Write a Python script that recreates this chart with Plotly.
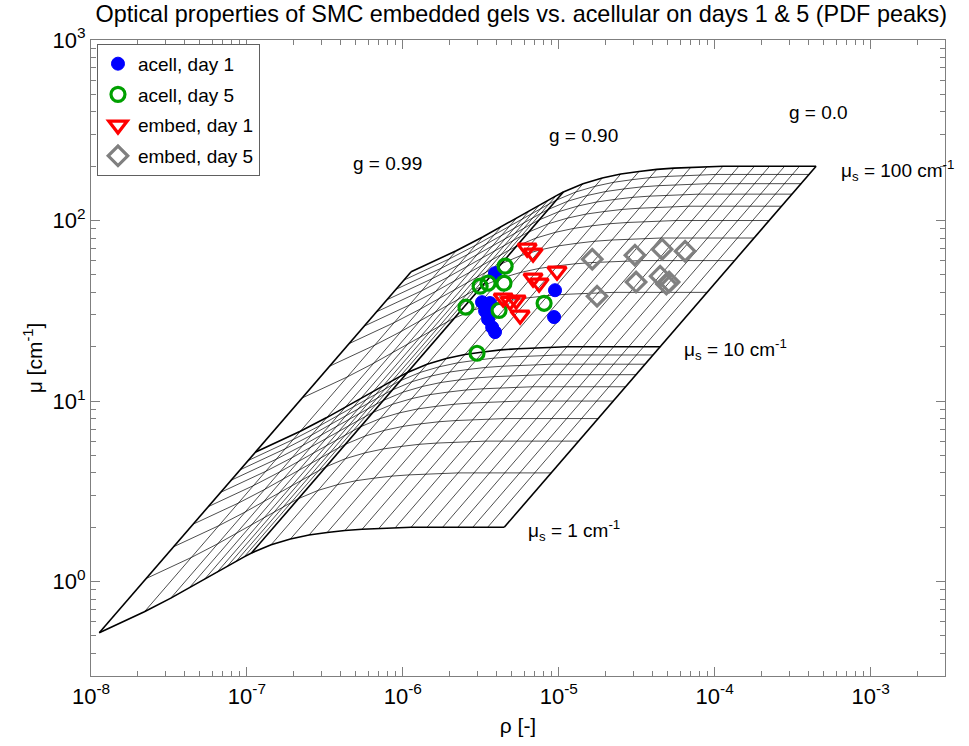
import math
import plotly.graph_objects as go

# ---- model grid: scattering coefficient levels and anisotropy levels ----
mu_s_levels = [1, 2, 3, 4, 5, 6, 7, 8, 9, 10, 20, 30, 40, 50, 60, 70, 80, 90, 100]
mu_s_bold = [1, 10, 100]
g_levels = [0.99, 0.98, 0.97, 0.96, 0.95, 0.94, 0.93, 0.92, 0.91, 0.90,
            0.84, 0.78, 0.72, 0.66, 0.60, 0.54, 0.48, 0.42, 0.36, 0.30,
            0.24, 0.18, 0.12, 0.06, 0.0]
g_bold = [0.99, 0.90, 0.0]
# rho and mu per unit mu_s (cm) for each g level
rho_per_mus = [1.13e-8, 2.20e-8, 3.25e-8, 4.30e-8, 5.35e-8, 6.40e-8, 7.45e-8, 8.50e-8, 9.60e-8, 1.07e-7,
               1.43e-7, 1.90e-7, 2.50e-7, 3.27e-7, 4.25e-7, 5.48e-7, 7.02e-7, 8.95e-7, 1.13e-6, 1.43e-6,
               1.80e-6, 2.25e-6, 2.81e-6, 3.50e-6, 4.47e-6]
mu_per_mus = [0.52, 0.68, 0.81, 0.93, 1.03, 1.12, 1.21, 1.29, 1.37, 1.44,
              1.60, 1.72, 1.81, 1.87, 1.92, 1.95, 1.97, 1.99, 2.0, 2.0,
              2.0, 2.0, 2.0, 2.0, 2.0]

# ---- measured PDF peaks ----
acell_d1_rho = [3.90e-6, 3.22e-6, 3.62e-6, 3.37e-6, 3.52e-6, 3.74e-6, 3.90e-6, 9.46e-6, 9.33e-6]
acell_d1_mu = [51.1, 35.3, 34.9, 31.5, 28.4, 25.6, 24.1, 41.1, 29.2]
acell_d5_rho = [4.53e-6, 3.13e-6, 3.52e-6, 4.45e-6, 2.54e-6, 4.14e-6, 8.05e-6, 2.99e-6]
acell_d5_mu = [55.9, 43.3, 45.0, 45.0, 33.1, 31.8, 34.8, 18.4]
embed_d1_rho = [6.27e-6, 6.84e-6, 9.75e-6, 6.84e-6, 7.48e-6, 4.40e-6, 4.87e-6, 5.33e-6, 5.65e-6]
embed_d1_mu = [70.3, 65.9, 52.4, 48.0, 45.0, 37.2, 35.7, 36.2, 29.9]
embed_d5_rho = [1.64e-5, 1.76e-5, 3.08e-5, 3.13e-5, 4.60e-5, 6.46e-5, 4.47e-5, 5.10e-5, 4.90e-5]
embed_d5_mu = [61.1, 38.1, 64.3, 45.6, 69.4, 67.6, 49.2, 45.6, 44.5]

FONT = "Arial, Liberation Sans, sans-serif"

fig = go.Figure()


def add_lines(xs, ys, width):
    fig.add_trace(go.Scatter(x=xs, y=ys, mode="lines", showlegend=False, hoverinfo="skip",
                             line=dict(color="black", width=width)))


thin_x, thin_y, bold_x, bold_y = [], [], [], []
# curves of constant mu_s (g varies)
for ms in mu_s_levels:
    xs = [ms * r for r in rho_per_mus] + [None]
    ys = [ms * m for m in mu_per_mus] + [None]
    if ms in mu_s_bold:
        bold_x += xs
        bold_y += ys
    else:
        thin_x += xs
        thin_y += ys
# lines of constant g (mu_s varies)
for g, r, m in zip(g_levels, rho_per_mus, mu_per_mus):
    xs = [mu_s_levels[0] * r, mu_s_levels[-1] * r, None]
    ys = [mu_s_levels[0] * m, mu_s_levels[-1] * m, None]
    if g in g_bold:
        bold_x += xs
        bold_y += ys
    else:
        thin_x += xs
        thin_y += ys

add_lines(thin_x, thin_y, 0.7)
add_lines(bold_x, bold_y, 1.6)

series = [
    ("acell, day 1", acell_d1_rho, acell_d1_mu, "circle", 13, "#0000ff", 1),
    ("acell, day 5", acell_d5_rho, acell_d5_mu, "circle-open", 14, "#00a000", 3.2),
    ("embed, day 1", embed_d1_rho, embed_d1_mu, "triangle-down-open", 16, "#ff0000", 3.2),
    ("embed, day 5", embed_d5_rho, embed_d5_mu, "diamond-open", 15, "#808080", 3.2),
]
for name, xs, ys, sym, size, col, lw in series:
    fig.add_trace(go.Scatter(x=xs, y=ys, mode="markers", name=name, legendgroup=name,
                             marker=dict(symbol=sym, size=size, color=col,
                                         line=dict(color=col, width=lw))))

# text labels for the grid (log axes: positions given as exponents)
ann_font = dict(family=FONT, size=19, color="black")
for rho, mu, t in [(8.0e-7, 208, "g = 0.99"),
                   (1.43e-5, 294, "g = 0.90"),
                   (4.6e-4, 399, "g = 0.0")]:
    fig.add_annotation(x=math.log10(rho), y=math.log10(mu), xref="x", yref="y", text=t,
                       showarrow=False, font=ann_font, xanchor="center", yanchor="middle")
for rho, mu, t in [(6.3e-4, 190, "μ<sub>s</sub> = 100 cm<sup>-1</sup>"),
                   (6.2e-5, 19.2, "μ<sub>s</sub> = 10 cm<sup>-1</sup>"),
                   (6.2e-6, 1.92, "μ<sub>s</sub> = 1 cm<sup>-1</sup>")]:
    fig.add_annotation(x=math.log10(rho), y=math.log10(mu), xref="x", yref="y", text=t,
                       showarrow=False, font=ann_font, xanchor="left", yanchor="middle")

x_major = [1e-8, 1e-7, 1e-6, 1e-5, 1e-4, 1e-3]
x_text = ["10<sup>-8</sup>", "10<sup>-7</sup>", "10<sup>-6</sup>", "10<sup>-5</sup>",
          "10<sup>-4</sup>", "10<sup>-3</sup>"]
y_major = [1, 10, 100, 1000]
y_text = ["10<sup>0</sup>", "10<sup>1</sup>", "10<sup>2</sup>", "10<sup>3</sup>"]
x_minor = [k * 10.0 ** e for e in range(-8, -2) for k in range(2, 10) if k * 10.0 ** e < 3e-3]
y_minor = [k * 10.0 ** e for e in range(-1, 3) for k in range(2, 10) if k * 10.0 ** e > 0.3]

axis_common = dict(type="log", showgrid=False, zeroline=False, showline=True, linecolor="#7f7f7f",
                   linewidth=1.2, mirror="allticks", ticks="inside", ticklen=9, tickwidth=1,
                   tickcolor="#7f7f7f", tickfont=dict(family=FONT, size=22, color="black"),
                   tickmode="array")

fig.update_layout(
    width=969, height=746,
    margin=dict(l=91, r=24, t=40, b=70),
    paper_bgcolor="white", plot_bgcolor="white",
    title=dict(text="Optical properties of SMC embedded gels vs. acellular on days 1 & 5 (PDF peaks)",
               x=0.538, xanchor="center", y=0.982, yanchor="middle",
               font=dict(family=FONT, size=23.4, color="black")),
    xaxis=dict(**axis_common, range=[-8, -2.523], tickvals=x_major, ticktext=x_text,
               minor=dict(tickmode="array", tickvals=x_minor, ticks="inside", ticklen=5,
                          tickcolor="#7f7f7f", showgrid=False),
               title=dict(text="ρ [-]", font=dict(family=FONT, size=21, color="black"), standoff=10)),
    yaxis=dict(**axis_common, range=[-0.523, 3], tickvals=y_major, ticktext=y_text,
               minor=dict(tickmode="array", tickvals=y_minor, ticks="inside", ticklen=5,
                          tickcolor="#7f7f7f", showgrid=False),
               title=dict(text="μ [cm<sup>-1</sup>]", font=dict(family=FONT, size=21, color="black"),
                          standoff=4)),
    legend=dict(x=0.007, y=0.994, xanchor="left", yanchor="top", bgcolor="white",
                bordercolor="#606060", borderwidth=1, font=dict(family=FONT, size=19, color="black"),
                itemsizing="trace", tracegroupgap=3),
    showlegend=True,
)

fig.write_html("out.html")
